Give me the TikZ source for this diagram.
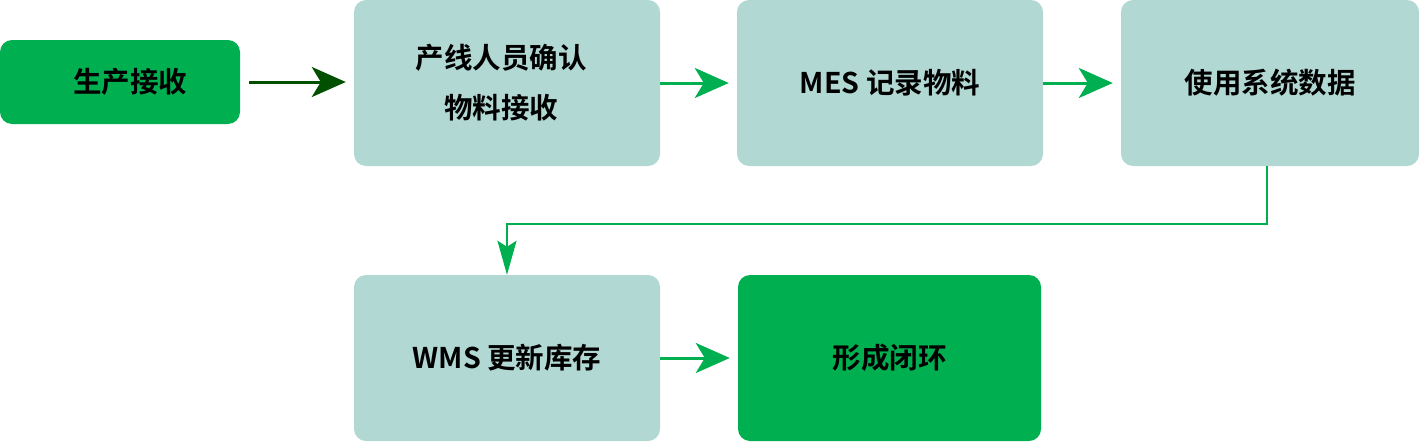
\documentclass[tikz,border=0pt]{standalone}
\usepackage{fontspec}
\setmainfont{Noto Sans CJK SC}[BoldFont={* Bold}]
\usetikzlibrary{arrows.meta}
\definecolor{stepgreen}{RGB}{0,176,80}
\definecolor{steppale}{RGB}{177,216,211}
\definecolor{arrowdark}{RGB}{0,80,0}
\begin{document}
\begin{tikzpicture}[
  x=1pt, y=-1pt,
  font=\fontsize{28.5}{50}\selectfont\bfseries,
  palebox/.style={fill=steppale, rounded corners=12pt, align=center,
    inner sep=0pt, minimum width=306pt, minimum height=166pt},
  greenbox/.style={fill=stepgreen, rounded corners=12pt, align=center,
    inner sep=0pt},
  flow/.style={-{Stealth[length=34pt,width=30pt,inset=9pt]}, line width=3pt,
    stepgreen, shorten >=8pt},
  darkflow/.style={flow, arrowdark, shorten <=9pt},
  drop/.style={-{Stealth[length=34pt,width=19pt,inset=6pt]}, line width=2.4pt,
    stepgreen}
]
  \useasboundingbox (0,0) rectangle (1419,442);

  %% top row
  \node[greenbox, minimum width=240pt, minimum height=84pt] (recv) at (120,82)
    {\hspace*{20pt}生产接收};
  \node[palebox] (confirm) at (507,83)
    {产线人员确认\hspace*{12pt}\\物料接收\hspace*{12pt}};
  \node[palebox] (mes) at (890,83) {MES 记录物料};
  \node[palebox, minimum width=298pt] (usedata) at (1270,83) {使用系统数据};

  %% bottom row
  \node[palebox] (wms) at (507,358) {WMS 更新库存};
  \node[greenbox, minimum width=303pt, minimum height=166pt] (closed)
    at (889.5,358) {形成闭环};

  \draw[darkflow] (recv.east) -- (recv.east -| confirm.west);
  \draw[flow] (confirm.east) -- (mes.west);
  \draw[flow] (mes.east) -- (usedata.west);
  \draw[drop] (usedata.south -| 1267,0) |- (507,224) -- (wms.north);
  \draw[flow] (wms.east) -- (closed.west);

\end{tikzpicture}
\end{document}
